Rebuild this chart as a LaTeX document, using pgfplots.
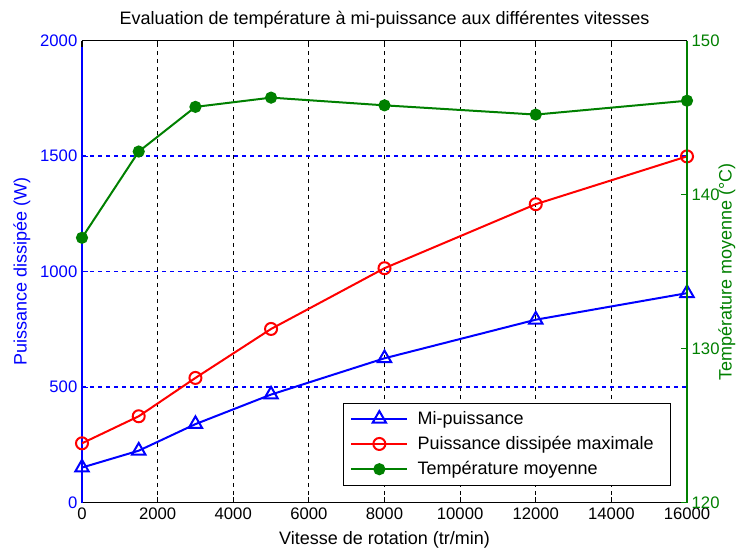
\documentclass[border=0pt]{standalone}
\usepackage{fontspec}
\setmainfont{Liberation Sans}
\usepackage{pgfplots}
\pgfplotsset{compat=1.18}
\definecolor{mblue}{rgb}{0,0,1}
\definecolor{mred}{rgb}{1,0,0}
\definecolor{mgreen}{rgb}{0,0.5,0}
\newcommand{\fs}{\fontsize{13.5}{15}\selectfont}
\newcommand{\ft}{\fontsize{12.5}{14}\selectfont}
\begin{document}
\begin{tikzpicture}
\path[use as bounding box] (-61.5pt,-37pt) rectangle (495pt,377pt);
\begin{axis}[
 scale only axis, width=453.75pt, height=346.5pt,
 at={(0,0)}, anchor=south west,
 xmin=0, xmax=16000, ymin=0, ymax=2000,
 axis x line*=bottom, axis y line*=left,
 axis line style={-, line width=0.8pt},
 y axis line style={mblue},
 x axis line style={black},
 xtick={0,2000,...,16000}, ytick={0,500,...,2000},
 scaled x ticks=false, scaled y ticks=false,
 /pgf/number format/1000 sep={},
 /pgf/number format/assume math mode=true,
 tick align=inside, major tick length=4.5pt,
 xtick style={black, line width=0.8pt},
 ytick style={mblue, line width=0.8pt},
 xmajorgrids, ymajorgrids,
 every axis x grid/.style={black, dash pattern=on 3pt off 3pt, line width=0.75pt},
 every axis y grid/.style={mblue, dash pattern=on 3pt off 3pt, line width=1pt},
 yticklabel style={text=mblue, font=\ft},
 xticklabel style={text=black, font=\ft},
 xlabel={Vitesse de rotation (tr/min)},
 ylabel={Puissance dissipée (W)},
 every axis x label/.style={at={(axis description cs:0.5,-0.0807)}, anchor=center, font=\fs},
 every axis y label/.style={at={(axis description cs:-0.0992,0.5)}, rotate=90, anchor=center, font=\fs, text=mblue},
 title={Evaluation de température à mi-puissance aux différentes vitesses},
 every axis title/.style={at={(axis description cs:0.5,1.0448)}, anchor=center, font=\fs},
 legend style={at={(axis description cs:0.972,0.038)}, anchor=south east, draw=black, fill=white, font=\fs, row sep=3.5pt, inner xsep=5pt, inner ysep=4pt,
   nodes={inner xsep=7pt}},
 legend cell align=left,
 legend image code/.code={\draw[mark repeat=2,mark phase=2] plot coordinates {(0pt,0pt) (21pt,0pt) (42pt,0pt)};},
]
\addplot[mblue, line width=1.5pt, mark=triangle, mark size=5.8pt, mark options={solid}] coordinates {
(0,152) (1500,225) (3000,340) (5000,468) (8000,625) (12000,792) (16000,907)};
\addlegendentry{Mi-puissance}
\addplot[mred, line width=1.5pt, mark=o, mark size=4.5pt, mark options={solid}] coordinates {
(0,257) (1500,374) (3000,540) (5000,752) (8000,1015) (12000,1292) (16000,1499)};
\addlegendentry{Puissance dissipée maximale}
\addlegendimage{mgreen, line width=1.5pt, mark=*, mark size=3.8pt}
\addlegendentry{Température moyenne}
\end{axis}
\begin{axis}[
 scale only axis, width=453.75pt, height=346.5pt,
 at={(0,0)}, anchor=south west,
 xmin=0, xmax=16000, ymin=120, ymax=150,
 axis x line*=top, axis y line*=right,
 axis line style={-, line width=0.8pt},
 y axis line style={mgreen},
 x axis line style={black},
 xtick={0,2000,...,16000}, xticklabels={},
 scaled x ticks=false, scaled y ticks=false,
 ytick={120,130,140,150},
 /pgf/number format/assume math mode=true,
 tick align=inside, major tick length=4.5pt,
 xtick style={black, line width=0.8pt},
 ytick style={mgreen, line width=0.8pt},
 yticklabel style={text=mgreen, font=\ft},
 ylabel={Température moyenne (°C)},
 every axis y label/.style={at={(axis description cs:1.066,0.5)}, rotate=90, anchor=center, font=\fs, text=mgreen},
]
\addplot[mgreen, line width=1.5pt, mark=*, mark size=3.8pt] coordinates {
(0,137.2) (1500,142.8) (3000,145.7) (5000,146.3) (8000,145.8) (12000,145.2) (16000,146.1)};
\end{axis}
\end{tikzpicture}
\end{document}
